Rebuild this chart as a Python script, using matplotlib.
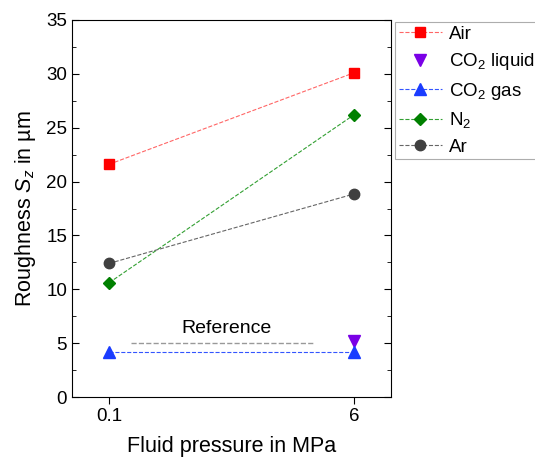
import numpy as np
import matplotlib
matplotlib.use("Agg")
import matplotlib.pyplot as plt

# =========================
# Data
# =========================
pressures = ["0.1", "6"]

air = [21.6, 30.1]
co2_liquid = [5.2]
co2_gas = [4.2, 4.2]
n2 = [10.6, 26.2]
ar = [12.4, 18.85]

reference_value = 5.0

plt.rcParams["font.family"] = ["Liberation Sans", "DejaVu Sans"]
plt.rcParams["mathtext.fontset"] = "custom"
plt.rcParams["mathtext.rm"] = "Liberation Sans"
plt.rcParams["mathtext.it"] = "Liberation Sans:italic"

fig = plt.figure(figsize=(5.35, 4.59), dpi=100)
ax = fig.add_axes([72 / 535, 62 / 459, 319 / 535, 377 / 459])

x = np.arange(len(pressures))

# =========================
# Series
# =========================
ax.plot(x, air, ls="--", lw=0.8, color="#ff6666", marker="s", ms=7,
        mfc="#ff0000", mec="#ff0000", label="Air")
ax.plot(x[1:], co2_liquid, ls="none", marker="v", ms=8,
        mfc="#7a00e6", mec="#7a00e6", label="CO$_2$ liquid")
ax.plot(x, co2_gas, ls="--", lw=0.8, color="#3355ff", marker="^", ms=8,
        mfc="#1a3cff", mec="#1a3cff", label="CO$_2$ gas")
ax.plot(x, n2, ls="--", lw=0.8, color="#33a033", marker="D", ms=6.5,
        mfc="#008000", mec="#008000", label="N$_2$")
ax.plot(x, ar, ls="--", lw=0.8, color="#666666", marker="o", ms=7.5,
        mfc="#404040", mec="#404040", label="Ar")

# Reference line
ax.plot([0.09, 0.84], [reference_value, reference_value], ls="--", lw=1.0,
        color="#999999")
ax.text(0.48, 6.4, "Reference", ha="center", va="center", fontsize=14)

# =========================
# Axes
# =========================
ax.set_xlim(-0.151, 1.151)
ax.set_ylim(0, 35)
ax.set_xticks(x)
ax.set_xticklabels(pressures)
ax.set_yticks(np.arange(0, 36, 5))
ax.set_yticks(np.arange(2.5, 35, 5), minor=True)

ax.tick_params(axis="y", which="both", direction="in", right=True, labelsize=13.5)
ax.tick_params(axis="y", which="major", length=5)
ax.tick_params(axis="y", which="minor", length=3)
ax.tick_params(axis="x", direction="out", length=5, labelsize=13.5, pad=3)

ax.set_xlabel("Fluid pressure in MPa", fontsize=15.5, labelpad=8)
ax.set_ylabel("Roughness $S_z$ in µm", fontsize=15.5, labelpad=6)

leg = ax.legend(loc="upper left", bbox_to_anchor=(1.012, 0.995), fontsize=13.5,
                frameon=True, fancybox=False, edgecolor="#999999",
                handlelength=2.3, handletextpad=0.4, borderpad=0.2,
                borderaxespad=0, labelspacing=0.45)
leg.get_frame().set_linewidth(0.8)

fig.savefig("out.png", dpi=100)
